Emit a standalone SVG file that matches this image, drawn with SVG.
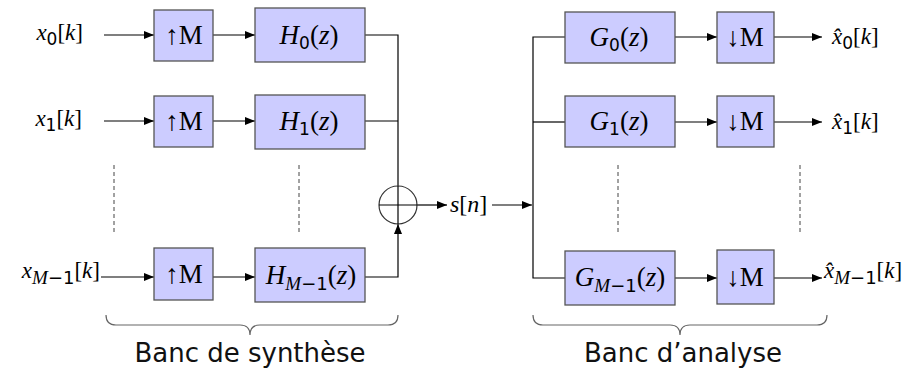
<svg xmlns="http://www.w3.org/2000/svg" width="918" height="371" viewBox="0 0 918 371">
<style>
.box{fill:#ccccff;stroke:#555;stroke-width:1.3}
.ln{fill:none;stroke:#000;stroke-width:1.2}
.dash{fill:none;stroke:#444;stroke-width:1;stroke-dasharray:4 3}
.brace{fill:none;stroke:#666;stroke-width:1.2}
.m{font-family:"Liberation Serif","DejaVu Serif",serif;font-size:27px;fill:#000}
.i{font-style:italic}
.sub{font-family:"DejaVu Sans","Liberation Sans",sans-serif;font-size:17px}
.subi{font-family:"Liberation Serif","DejaVu Serif",serif;font-style:italic;font-size:19px}
.lab{font-family:"Liberation Serif","DejaVu Serif",serif;font-size:23px;fill:#000}
.cap{font-family:"DejaVu Sans","Liberation Sans",sans-serif;font-size:26px;fill:#111}
</style>
<defs>
<marker id="ah" markerUnits="userSpaceOnUse" markerWidth="10" markerHeight="8" refX="10" refY="4" orient="auto">
<path d="M0,0 L10,4 L0,8 z" fill="#000"/>
</marker>
</defs>

<g id="connectors">
<line class="ln" x1="104" y1="35" x2="154" y2="35" marker-end="url(#ah)"/>
<line class="ln" x1="104" y1="121" x2="154" y2="121" marker-end="url(#ah)"/>
<line class="ln" x1="101" y1="277" x2="154" y2="277" marker-end="url(#ah)"/>
<line class="ln" x1="213" y1="35" x2="255" y2="35" marker-end="url(#ah)"/>
<line class="ln" x1="213" y1="121" x2="255" y2="121" marker-end="url(#ah)"/>
<line class="ln" x1="213" y1="277" x2="255" y2="277" marker-end="url(#ah)"/>
<polyline class="ln" points="365,35 398,35 398,186"/>
<line class="ln" x1="365" y1="121" x2="398" y2="121"/>
<polyline class="ln" points="365,277 398,277 398,224" marker-end="url(#ah)"/>
<line class="ln" x1="417" y1="205" x2="447" y2="205" marker-end="url(#ah)"/>
<line class="ln" x1="492" y1="205" x2="532" y2="205" marker-end="url(#ah)"/>
<polyline class="ln" points="565,37 533,37 533,278 565,278"/>
<line class="ln" x1="533" y1="122" x2="565" y2="122"/>
<line class="ln" x1="675" y1="37" x2="717" y2="37" marker-end="url(#ah)"/>
<line class="ln" x1="675" y1="122" x2="717" y2="122" marker-end="url(#ah)"/>
<line class="ln" x1="675" y1="278" x2="717" y2="278" marker-end="url(#ah)"/>
<line class="ln" x1="774" y1="37" x2="822" y2="37" marker-end="url(#ah)"/>
<line class="ln" x1="774" y1="122" x2="822" y2="122" marker-end="url(#ah)"/>
<line class="ln" x1="774" y1="278" x2="822" y2="278" marker-end="url(#ah)"/>
<line class="dash" x1="114" y1="165" x2="114" y2="234"/>
<line class="dash" x1="299" y1="165" x2="299" y2="234"/>
<line class="dash" x1="618" y1="165" x2="618" y2="234"/>
<line class="dash" x1="800" y1="165" x2="800" y2="234"/>
</g>

<g id="in-labels">
<text class="lab" x="83" y="40" text-anchor="end"><tspan class="i">x</tspan><tspan class="sub" dy="5">0</tspan><tspan dy="-5">[</tspan><tspan class="i">k</tspan>]</text>
<text class="lab" x="82" y="126" text-anchor="end"><tspan class="i">x</tspan><tspan class="sub" dy="5">1</tspan><tspan dy="-5">[</tspan><tspan class="i">k</tspan>]</text>
<text class="lab" x="100" y="278" text-anchor="end"><tspan class="i">x</tspan><tspan class="subi" dy="6">M</tspan><tspan class="sub" style="font-size:18px">−1</tspan><tspan dy="-6">[</tspan><tspan class="i">k</tspan>]</text>
</g>

<g id="up0"><rect class="box" x="154" y="10" width="59" height="51"/><text class="m" x="184" y="44" text-anchor="middle">↑M</text></g>
<g id="up1"><rect class="box" x="154" y="96" width="59" height="51"/><text class="m" x="184" y="130" text-anchor="middle">↑M</text></g>
<g id="upM"><rect class="box" x="154" y="248" width="59" height="52"/><text class="m" x="184" y="283" text-anchor="middle">↑M</text></g>

<g id="H0"><rect class="box" x="255" y="8" width="110" height="54"/><text class="m" x="309" y="44" text-anchor="middle"><tspan class="i">H</tspan><tspan class="sub" dy="5">0</tspan><tspan dy="-5">(</tspan><tspan class="i">z</tspan>)</text></g>
<g id="H1"><rect class="box" x="255" y="95" width="110" height="54"/><text class="m" x="309" y="130" text-anchor="middle"><tspan class="i">H</tspan><tspan class="sub" dy="5">1</tspan><tspan dy="-5">(</tspan><tspan class="i">z</tspan>)</text></g>
<g id="HM"><rect class="box" x="255" y="248" width="110" height="54"/><text class="m" x="311" y="284" text-anchor="middle"><tspan class="i">H</tspan><tspan class="subi" dy="6">M</tspan><tspan class="sub" style="font-size:18px">−1</tspan><tspan dy="-6">(</tspan><tspan class="i">z</tspan>)</text></g>

<g id="sum">
<circle cx="398" cy="205" r="19" fill="none" stroke="#333" stroke-width="1.2"/>
<line class="ln" x1="379" y1="205" x2="417" y2="205"/>
<line class="ln" x1="398" y1="186" x2="398" y2="224"/>
</g>
<g id="s-label"><text class="lab" x="450" y="212" style="font-size:24px"><tspan class="i">s</tspan>[<tspan class="i">n</tspan>]</text></g>

<g id="G0"><rect class="box" x="565" y="12" width="110" height="51"/><text class="m" x="619" y="46" text-anchor="middle"><tspan class="i">G</tspan><tspan class="sub" dy="5">0</tspan><tspan dy="-5">(</tspan><tspan class="i">z</tspan>)</text></g>
<g id="G1"><rect class="box" x="565" y="96" width="110" height="51"/><text class="m" x="619" y="130" text-anchor="middle"><tspan class="i">G</tspan><tspan class="sub" dy="5">1</tspan><tspan dy="-5">(</tspan><tspan class="i">z</tspan>)</text></g>
<g id="GM"><rect class="box" x="565" y="251" width="110" height="54"/><text class="m" x="620" y="286" text-anchor="middle"><tspan class="i">G</tspan><tspan class="subi" dy="6">M</tspan><tspan class="sub" style="font-size:18px">−1</tspan><tspan dy="-6">(</tspan><tspan class="i">z</tspan>)</text></g>

<g id="down0"><rect class="box" x="717" y="12" width="57" height="51"/><text class="m" x="745" y="46" text-anchor="middle">↓M</text></g>
<g id="down1"><rect class="box" x="717" y="96" width="57" height="51"/><text class="m" x="745" y="130" text-anchor="middle">↓M</text></g>
<g id="downM"><rect class="box" x="717" y="250" width="57" height="54"/><text class="m" x="745" y="286" text-anchor="middle">↓M</text></g>

<g id="out-labels">
<text class="lab" x="832" y="44"><tspan class="i">x̂</tspan><tspan class="sub" dy="5">0</tspan><tspan dy="-5">[</tspan><tspan class="i">k</tspan>]</text>
<text class="lab" x="832" y="129"><tspan class="i">x̂</tspan><tspan class="sub" dy="5">1</tspan><tspan dy="-5">[</tspan><tspan class="i">k</tspan>]</text>
<text class="lab" x="824" y="278"><tspan class="i">x̂</tspan><tspan class="subi" dy="6">M</tspan><tspan class="sub" style="font-size:18px">−1</tspan><tspan dy="-6">[</tspan><tspan class="i">k</tspan>]</text>
</g>

<g id="brace-synthese">
<path class="brace" d="M106,315 Q106,325 116,325 L240,325 Q250,325 250,335 Q250,325 260,325 L388,325 Q398,325 398,315"/>
<text class="cap" x="250" y="362" text-anchor="middle">Banc de synthèse</text>
</g>
<g id="brace-analyse">
<path class="brace" d="M533,315 Q533,325 543,325 L670,325 Q680,325 680,335 Q680,325 690,325 L817,325 Q827,325 827,315"/>
<text class="cap" x="683" y="362" text-anchor="middle">Banc d’analyse</text>
</g>
</svg>
